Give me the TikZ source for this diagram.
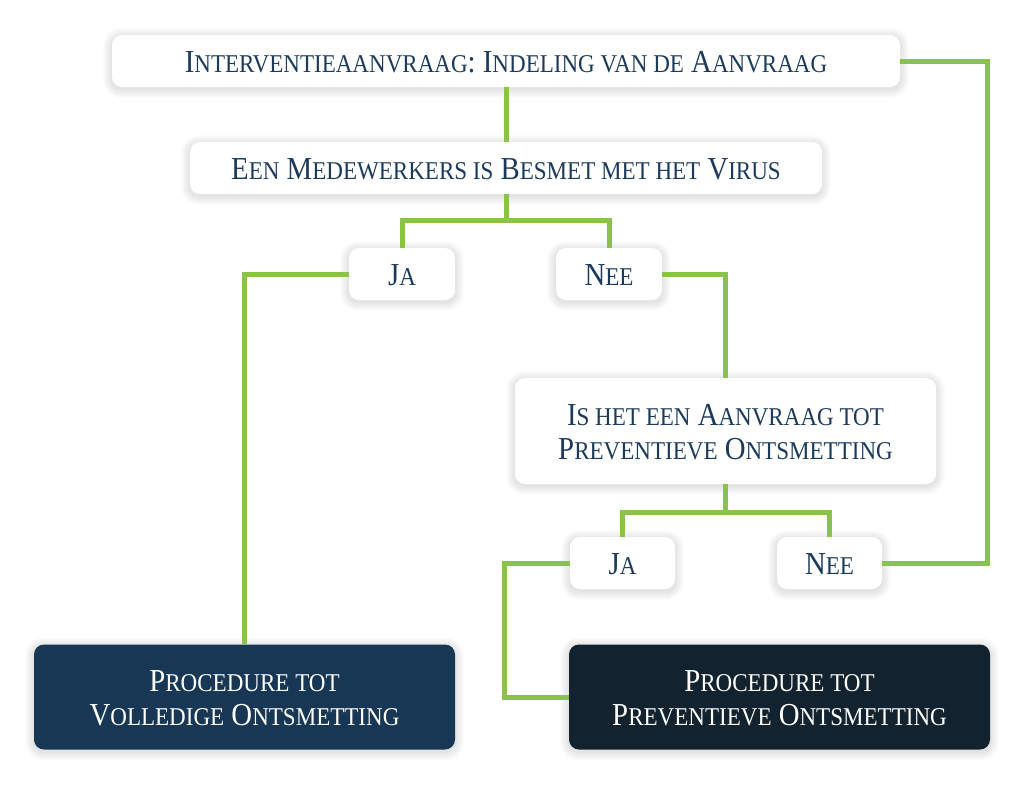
\documentclass[tikz,border=0pt]{standalone}
\usepackage{fontspec}
\setmainfont{Liberation Serif}
\usepackage{graphicx}
\usetikzlibrary{calc,backgrounds}
\pgfdeclarelayer{bgzero}
\pgfsetlayers{bgzero,background,main}
\definecolor{lgreen}{HTML}{8BC34A}
\definecolor{navy}{HTML}{1B3A5C}
\definecolor{dkA}{HTML}{173754}
\definecolor{dkB}{HTML}{12222E}
\newcommand\q[1]{{\fontsize{25.6}{34}\selectfont #1}}
\newcommand\lbl[1]{\raisebox{-4.5pt}[\height][\depth]{\scalebox{0.9}[1]{\begin{tabular}{@{}c@{}}#1\end{tabular}}}}
\newcommand\softshadow[1]{%
  \foreach \i [evaluate=\i as \rr using 10+\i] in {1,...,9}{%
    \fill[black, opacity=0.011, rounded corners=\rr pt]
      ($(#1.south west)+(-\i,\i+2)$) rectangle ($(#1.north east)+(\i,-\i+2)$);}}
\tikzset{
  box/.style={rectangle, rounded corners=10pt, fill=white, draw=none, inner sep=0pt,
    text=navy, align=center, font=\fontsize{32}{34}\selectfont},
  dark/.style={box, text=white},
  link/.style={draw=lgreen, line width=5pt}
}
\begin{document}
\begin{tikzpicture}[x=1pt,y=-1pt]
\useasboundingbox (0,0) rectangle (1024,785);
\begin{pgfonlayer}{bgzero}
\fill[white] (0,0) rectangle (1024,785);
\end{pgfonlayer}
\node[box, minimum width=788pt, minimum height=52pt] (top) at (506,61) {\lbl{I\q{NTERVENTIEAANVRAAG}: I\q{NDELING VAN DE} A\q{ANVRAAG}}};
\node[box, minimum width=632pt, minimum height=52pt] (inf) at (506,168) {\lbl{E\q{EN} M\q{EDEWERKERS IS} B\q{ESMET MET HET} V\q{IRUS}}};
\node[box, minimum width=106pt, minimum height=52pt] (ja1) at (402,274) {\lbl{J\q{A}}};
\node[box, minimum width=106pt, minimum height=52pt] (nee1) at (609,274) {\lbl{N\q{EE}}};
\node[box, minimum width=421pt, minimum height=106pt] (q) at (725.5,431) {\lbl{I\q{S HET EEN} A\q{ANVRAAG TOT}\\P\q{REVENTIEVE} O\q{NTSMETTING}}};
\node[box, minimum width=105pt, minimum height=52pt] (ja2) at (622.5,563) {\lbl{J\q{A}}};
\node[box, minimum width=105pt, minimum height=52pt] (nee2) at (829.5,563) {\lbl{N\q{EE}}};
\node[dark, fill=dkA, minimum width=421pt, minimum height=105pt] (full) at (244.5,697) {\lbl{P\q{ROCEDURE TOT}\\V\q{OLLEDIGE} O\q{NTSMETTING}}};
\node[dark, fill=dkB, minimum width=421pt, minimum height=105pt] (prev) at (779.5,697) {\lbl{P\q{ROCEDURE TOT}\\P\q{REVENTIEVE} O\q{NTSMETTING}}};
\begin{scope}[on background layer]
\softshadow{top}\softshadow{inf}\softshadow{ja1}\softshadow{nee1}\softshadow{q}
\softshadow{ja2}\softshadow{nee2}\softshadow{full}\softshadow{prev}
\end{scope}
\coordinate (s1) at ($(inf.south)+(0,26)$);
\coordinate (s2) at ($(q.south)+(0,28)$);
\draw[link] (top.south) -- (inf.north);
\draw[link] (inf.south) -- (s1);
\draw[link] (ja1.north) |- (s1) -| (nee1.north);
\draw[link] (ja1.west) -| (full.north);
\draw[link] (nee1.east) -| (q.north);
\draw[link] (q.south) -- (s2);
\draw[link] (ja2.north) |- (s2) -| (nee2.north);
\draw[link] (ja2.west) -- ++(-65,0) |- (prev.west);
\draw[link] (nee2.east) -- ++(105,0) |- (top.east);
\end{tikzpicture}
\end{document}
